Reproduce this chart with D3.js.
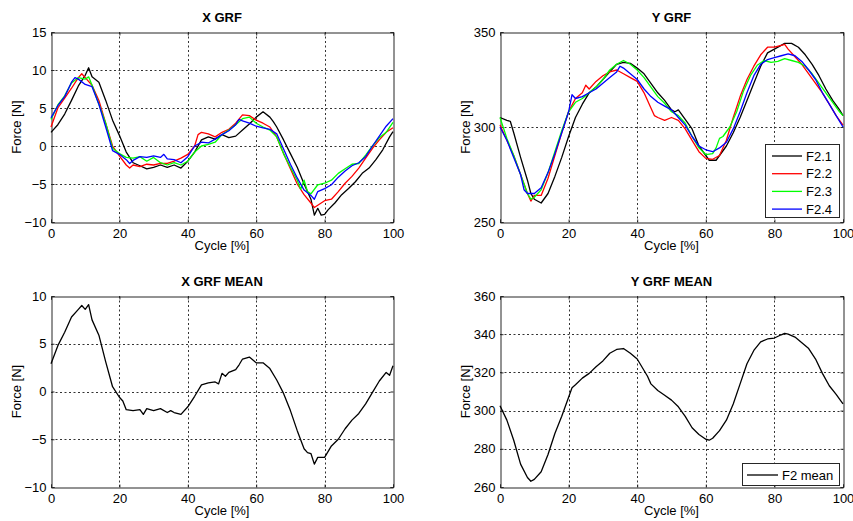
<!DOCTYPE html>
<html><head><meta charset="utf-8">
<script src="https://cdn.jsdelivr.net/npm/d3@7"></script>
<style>body{margin:0;background:#fff;}svg{display:block;font-family:"Liberation Sans",Arial,sans-serif;}</style>
</head><body><svg id="c" width="853" height="521"></svg>
<script>
const cycleTicks = [0,20,40,60,80,100];
const xGrfTicks = [-10,-5,0,5,10,15];
const yGrfTicks = [250,300,350];
const xMeanTicks = [-10,-5,0,5,10];
const yMeanTicks = [260,280,300,320,340,360];
const seriesNames = ["F2.1","F2.2","F2.3","F2.4"];
const seriesColors = ["#000000","#ff0000","#00ff00","#0000ff"];

const xF21 = [[0,1.8],[2,2.8],[4,4.2],[6,6],[8,7.9],[10,9.3],[11,10.3],[12,9.1],[14,8.4],[16,6],[18,3.4],[20,1.4],[22,-0.8],[24,-2.2],[26,-2.6],[28,-3],[30,-2.8],[32,-2.5],[34,-2.8],[36,-2.5],[38,-2.9],[40,-2],[42,-0.8],[44,0.8],[46,1.2],[48,0.9],[50,1.5],[52,1.1],[54,1.3],[56,2.1],[58,2.9],[60,3.8],[62,4.5],[64,3.8],[65,3.2],[66,2.5],[68,0.8],[70,-1],[72,-2.8],[74,-5],[76,-7],[77,-9.1],[78,-8.2],[79,-9.1],[80,-9],[81,-8.4],[83,-7.5],[85,-6.4],[87,-5.6],[89,-4.7],[91,-3.6],[93,-2.9],[95,-1.8],[97,-0.5],[99,1.2],[100,1.9]];
const xF22 = [[0,2.5],[2,5],[4,6.3],[6,7.6],[8,9],[9,9.5],[10,9],[12,8],[14,6],[16,3],[18,0],[20,-1.3],[22,-2.5],[23,-2.9],[24,-2.5],[26,-2.7],[28,-2.4],[30,-2.5],[32,-2.3],[34,-2.3],[36,-2],[38,-1.6],[40,-1.1],[42,0],[43,1.5],[44,1.8],[46,1.6],[48,1.2],[50,1.8],[52,2.2],[54,3],[56,4.1],[58,4],[60,3.4],[62,3],[64,2.5],[66,1.2],[68,-1],[70,-3],[72,-5],[74,-6.4],[76,-7.5],[77,-8.1],[78,-7.8],[80,-7.2],[82,-7],[84,-6],[86,-4.9],[88,-4],[90,-2.9],[92,-1.6],[94,-0.3],[96,0.8],[98,1.8],[100,2.4]];
const xF23 = [[0,3.5],[2,5.4],[4,6.6],[6,8.3],[8,9],[10,8.8],[11,9.1],[12,8],[14,5.5],[16,3],[18,-0.3],[20,-1],[22,-1.5],[24,-1.6],[26,-1.4],[28,-2],[30,-1.5],[32,-2.2],[34,-2.5],[36,-2.2],[38,-2.5],[40,-2],[42,-0.8],[44,0],[46,0.2],[48,0.5],[50,1.5],[52,2.1],[54,2.8],[56,3.6],[58,3.8],[60,3],[62,2.5],[64,2.1],[66,1.2],[68,-1],[70,-2.8],[72,-4.5],[73,-5.7],[74,-4.5],[75,-6],[76,-6.3],[78,-5.1],[80,-4.9],[82,-4.5],[84,-3.6],[86,-3],[88,-2.4],[90,-2.3],[92,-1.2],[94,0],[96,1.1],[98,1.8],[100,3.1]];
const xF24 = [[0,3.7],[2,5.3],[4,6.5],[6,8.4],[7,9],[8,8.8],[10,8.1],[12,7.8],[14,5.5],[16,2.5],[18,-0.6],[20,-1.1],[22,-1.8],[23,-2.3],[24,-1.9],[26,-1.4],[28,-1.5],[30,-1.3],[32,-1.5],[33,-1.1],[34,-1.7],[36,-1.8],[38,-2.2],[40,-1.4],[42,0],[44,0.5],[46,0.4],[48,0.9],[50,1.5],[52,2],[54,2.8],[55,3.5],[56,3.3],[58,3],[60,2.6],[62,2.4],[64,2.2],[66,1.6],[68,-0.4],[70,-2.4],[72,-4.2],[74,-5.8],[76,-6.5],[77,-7],[78,-6],[80,-5.6],[82,-5.1],[84,-4.1],[86,-3.3],[88,-2.6],[90,-2.2],[92,-1.4],[94,0],[96,1.3],[98,2.6],[100,3.6]];

const yF21 = [[0,305],[2,303.5],[3,303],[4,297],[6,284],[8,272],[9,265],[10,262],[12,260],[14,265],[16,274],[18,284],[20,295],[22,305],[24,312],[26,318],[28,321],[30,325],[32,329],[34,333],[36,334],[38,333.5],[40,331],[42,328],[44,323],[46,318],[48,314],[50,309],[51,308],[52,309],[54,304],[56,299],[58,290],[60,285],[61,282.5],[63,282.5],[64,285],[66,290],[68,297],[70,305],[72,314],[74,323],[76,332],[78,339],[80,341],[83,344],[85,344],[87,342],[89,338],[91,333],[93,327],[95,320],[97,314],[99,309],[100,306]];
const yF22 = [[0,301],[2,293],[4,285],[6,275],[8,265],[9,261],[10,264],[12,264],[14,273],[16,285],[18,297],[20,308],[22,315],[24,318],[25,322],[26,320],[28,324],[30,327],[32,329],[34,330],[36,328],[38,326],[40,324],[42,318],[44,310],[45,306],[46,305],[48,303.5],[50,305],[52,303.5],[54,299],[56,293],[58,287],[60,283.5],[62,283],[64,285],[66,293],[68,305],[70,316],[72,325],[74,332],[76,338],[78,342],[80,342],[82,343],[83,343.5],[84,341],[86,337],[88,333],[90,328],[92,323],[94,318],[96,312],[98,306],[100,301]];
const yF23 = [[0,305],[2,294],[4,285],[6,275],[8,265],[9,262],[10,263],[12,267],[14,276],[16,287],[18,298],[20,308],[22,313],[24,315],[26,318],[28,321],[30,325],[32,330],[34,333],[36,335],[38,333],[40,330],[42,326],[44,321],[46,316],[48,312.5],[50,308],[52,306],[54,302],[56,295],[58,289],[60,285.5],[62,286],[63,289],[64,294],[65,295],[67,300],[69,308],[71,319],[73,327],[75,332.5],[77,335],[79,334],[81,334.5],[83,336],[85,335],[87,334],[89,332],[91,328],[93,323],[95,318],[97,313],[99,308],[100,306]];
const yF24 = [[0,300],[2,293],[4,284],[6,275],[7,267],[8,265],[10,265],[12,268],[14,276],[16,286],[18,297],[20,308],[21,317],[22,315],[24,316],[26,318],[28,320],[30,323],[32,326],[34,329],[35,332],[36,331],[38,328],[40,325],[42,320],[44,316],[46,313],[48,311],[50,309],[52,305],[54,301],[56,295],[58,290],[60,288],[62,287],[64,289],[66,292],[68,299],[70,308],[72,318],[74,327],[76,333],[78,335.5],[80,336.5],[82,337.5],[84,338.5],[86,337.5],[88,334.5],[90,330],[92,325],[94,318],[96,312],[98,306],[100,300]];

const xMean = [[0,2.9],[2,4.8],[4,6.2],[6,7.8],[8,8.6],[9,9],[10,8.6],[11,9.1],[12,7.5],[14,5.9],[16,3.1],[18,0.5],[20,-0.6],[21,-1],[22,-1.9],[24,-2],[26,-1.9],[27,-2.4],[28,-1.8],[30,-2],[32,-1.8],[34,-2.2],[35,-2],[36,-2.2],[38,-2.4],[40,-1.6],[42,-0.5],[44,0.7],[46,0.9],[48,1],[49,0.8],[50,1.9],[51,1.6],[52,2],[54,2.3],[55,2.8],[56,3.4],[58,3.6],[60,3],[62,3],[64,2.4],[66,1.2],[68,-0.2],[70,-2],[72,-4.1],[74,-6],[75,-6.4],[76,-6.5],[77,-7.6],[78,-6.9],[80,-6.9],[82,-5.7],[84,-5],[86,-3.9],[88,-3],[90,-2.3],[92,-1.3],[94,-0.1],[96,1.1],[98,2],[99,1.7],[100,2.7]];
const yMean = [[0,302.5],[2,295],[4,284.5],[6,272],[8,265],[9,263],[10,264],[12,268],[14,277],[16,288],[18,297],[20,307],[21,312],[22,313.5],[24,317],[26,319.5],[28,323],[30,326],[32,330],[34,332],[36,332.5],[38,330],[40,327],[42,321],[43,318],[44,314],[46,310.5],[48,308],[50,305.5],[52,302],[54,297],[56,291],[58,287.5],[60,285],[61,284.5],[62,285.5],[64,289.5],[66,295],[68,303.5],[70,314],[72,324.5],[74,331.5],[76,336],[78,337.5],[80,338],[82,339.7],[83,340.4],[84,340],[86,338.5],[88,335.5],[90,332.5],[92,327],[94,319.5],[96,313],[98,308.5],[100,303.5]];

const svg = d3.select("#c");
const AX = "#262626";

function panel(o){
  const g = svg.append("g");
  const x = d3.scaleLinear().domain([0,100]).range([o.l,o.r]);
  const y = d3.scaleLinear().domain(o.yd).range([o.b,o.t]);
  // grid
  const gx = cycleTicks.filter(v=>v>0&&v<100);
  const gy = o.yt.filter(v=>v>o.yd[0]&&v<o.yd[1]);
  g.selectAll(".gx").data(gx).join("line")
    .attr("x1",d=>Math.round(x(d))+0.5).attr("x2",d=>Math.round(x(d))+0.5)
    .attr("y1",o.t).attr("y2",o.b)
    .attr("stroke","#333").attr("stroke-width",1).attr("stroke-dasharray","2,2.5");
  g.selectAll(".gy").data(gy).join("line")
    .attr("y1",d=>Math.round(y(d))+0.5).attr("y2",d=>Math.round(y(d))+0.5)
    .attr("x1",o.l).attr("x2",o.r)
    .attr("stroke","#333").attr("stroke-width",1).attr("stroke-dasharray","2,2.5");
  // axes
  const xa = g.append("g").attr("transform",`translate(0,${o.b+0.5})`)
    .call(d3.axisBottom(x).tickValues(cycleTicks).tickSize(-3).tickPadding(6).tickFormat(d3.format("d")));
  const xt = g.append("g").attr("transform",`translate(0,${o.t+0.5})`)
    .call(d3.axisTop(x).tickValues(cycleTicks).tickSize(-3).tickFormat(""));
  const ya = g.append("g").attr("transform",`translate(${o.l+0.5},0)`)
    .call(d3.axisLeft(y).tickValues(o.yt).tickSize(-3).tickPadding(5).tickFormat(d3.format("d")));
  const yr = g.append("g").attr("transform",`translate(${o.r+0.5},0)`)
    .call(d3.axisRight(y).tickValues(o.yt).tickSize(-3).tickFormat(""));
  [xa,xt,ya,yr].forEach(a=>{
    a.selectAll("path").attr("stroke",AX);
    a.selectAll("line").attr("stroke",AX);
    a.selectAll("text").attr("fill","#000").style("font-size","13px").style("font-family","'Liberation Sans',Arial,sans-serif");
  });
  // lines
  const line = d3.line().x(d=>x(d[0])).y(d=>y(d[1]));
  o.series.forEach((s,i)=>{
    g.append("path").datum(s).attr("d",line).attr("fill","none")
      .attr("stroke",o.colors[i]).attr("stroke-width",o.lw||1.3).attr("stroke-linejoin","round");
  });
  // title and labels
  g.append("text").attr("x",(o.l+o.r)/2).attr("y",o.t-10).attr("text-anchor","middle")
    .style("font-size","13px").style("font-weight","bold").text(o.title);
  g.append("text").attr("x",(o.l+o.r)/2).attr("y",o.b+28).attr("text-anchor","middle")
    .style("font-size","13px").text("Cycle [%]");
  g.append("text").attr("transform",`translate(${o.l-o.yl},${(o.t+o.b)/2}) rotate(-90)`)
    .attr("text-anchor","middle").style("font-size","13px").text("Force [N]");
  return {g,x,y};
}

panel({l:51,r:393,t:32,b:222,yd:[-10,15],yt:xGrfTicks,title:"X GRF",series:[xF21,xF22,xF23,xF24],colors:seriesColors,yl:30});
const tr = panel({l:500,r:843,t:32,b:222,yd:[250,350],yt:yGrfTicks,title:"Y GRF",series:[yF21,yF22,yF23,yF24],colors:seriesColors,yl:30});
panel({l:51,r:393,t:296,b:487,yd:[-10,10],yt:xMeanTicks,title:"X GRF MEAN",series:[xMean],colors:["#000"],yl:30});
const br = panel({l:500,r:843,t:296,b:487,yd:[260,360],yt:yMeanTicks,title:"Y GRF MEAN",series:[yMean],colors:["#000"],yl:30});

// legend top-right
const lg = svg.append("g");
lg.append("rect").attr("x",765.5).attr("y",144.5).attr("width",74).attr("height",73)
  .attr("fill","#fff").attr("stroke",AX).attr("stroke-width",1);
seriesNames.forEach((n,i)=>{
  const yy = 156 + i*17.7;
  lg.append("line").attr("x1",772).attr("x2",802).attr("y1",yy).attr("y2",yy)
    .attr("stroke",seriesColors[i]).attr("stroke-width",1.3);
  lg.append("text").attr("x",806).attr("y",yy+4.5).style("font-size","13px").text(n);
});
// legend bottom-right
const lg2 = svg.append("g");
lg2.append("rect").attr("x",742.5).attr("y",463.5).attr("width",97).attr("height",22)
  .attr("fill","#fff").attr("stroke",AX).attr("stroke-width",1);
lg2.append("line").attr("x1",747).attr("x2",778).attr("y1",475).attr("y2",475)
  .attr("stroke","#000").attr("stroke-width",1.3);
lg2.append("text").attr("x",782).attr("y",479.5).style("font-size","13px").text("F2 mean");
</script></body></html>
